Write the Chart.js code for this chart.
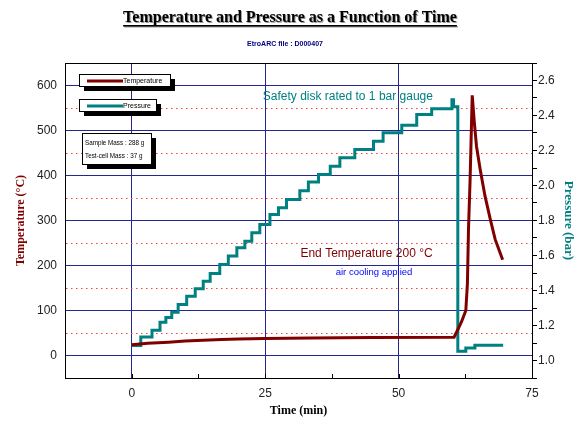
<!DOCTYPE html>
<html>
<head>
<meta charset="utf-8">
<script src="https://cdn.jsdelivr.net/npm/chart.js@4.4.1/dist/chart.umd.min.js"></script>
<style>
body { margin: 0; background: #fff; }
canvas { display: block; }
</style>
</head>
<body>
<canvas id="graph" width="580" height="422"></canvas>
<script>
// temperature trace: time (min) / temperature (degC)
const tempTime = [0, 3, 6.9, 10, 16.8, 20, 24.8, 33.6, 45, 60.4, 61.0, 61.8, 62.6, 62.9, 63.1, 63.4, 63.8, 64.2, 64.6, 65.3, 66.2, 67.2, 68.1, 69.5];
const tempVals = [24, 27, 29.6, 32, 35.5, 36.5, 37.8, 39, 40, 40.5, 55, 75, 100, 160, 280, 390, 578, 517, 465, 413, 354, 302, 258, 213];

// pressure trace: each point starts a new step (min / bar)
const presTime = [0, 1.7, 3.8, 5.3, 6.4, 7.5, 8.7, 10.3, 11.9, 13.4, 14.7, 16.5, 18.1, 19.7, 21.2, 22.5, 24.0, 25.9, 27.5, 29.0, 31.5, 33.1, 35.0, 37.2, 39.0, 41.8, 45.3, 47.1, 50.6, 53.4, 56.2, 60.0, 60.3, 61.1, 62.6, 64.3, 69.6];
const presVals = [1.086, 1.135, 1.173, 1.219, 1.246, 1.276, 1.32, 1.367, 1.41, 1.453, 1.497, 1.549, 1.597, 1.644, 1.682, 1.73, 1.777, 1.834, 1.873, 1.92, 1.97, 2.02, 2.063, 2.11, 2.158, 2.206, 2.253, 2.301, 2.345, 2.406, 2.438, 2.49, 2.45, 1.053, 1.072, 1.087, 1.087];

const massLines = ['Sample Mass : 288 g', 'Test-cell Mass : 37 g'];

const notes = [
    { text: 'Safety disk rated to 1 bar gauge', x: 40.5, y: 2.51, axis: 'y2', color: '#008080', size: 12 },
    { text: 'End Temperature 200 \u00B0C', x: 44.0, y: 227, axis: 'y', color: '#800000', size: 12 },
    { text: 'air cooling applied', x: 45.4, y: 184, axis: 'y', color: '#0000ff', size: 9.5 }
];

const NAVY = '#26268f';
const tickFont = { family: 'Liberation Sans', size: 12 };

function box(ctx, x, y, w, h) {
    ctx.fillStyle = '#000';
    ctx.fillRect(x + 5, y + 5, w, h);
    ctx.fillStyle = '#fff';
    ctx.fillRect(x, y, w, h);
    ctx.strokeStyle = '#000';
    ctx.lineWidth = 1;
    ctx.strokeRect(x + 0.5, y + 0.5, w, h);
}

const extras = {
    id: 'extras',
    beforeDraw(chart) {
        const ctx = chart.ctx;
        ctx.save();
        ctx.fillStyle = '#fff';
        ctx.fillRect(0, 0, chart.width, chart.height);
        ctx.restore();
    },
    afterDraw(chart) {
        const ctx = chart.ctx;
        const a = chart.chartArea;
        const sx = chart.scales.x;
        ctx.save();

        // frame round the plot
        ctx.strokeStyle = '#000';
        ctx.lineWidth = 1;
        ctx.strokeRect(Math.round(a.left) + 0.5, Math.round(a.top) + 0.5, Math.round(a.right - a.left), Math.round(a.bottom - a.top));
        sx.ticks.forEach(t => {
            const px = Math.round(sx.getPixelForValue(t.value)) + 0.5;
            ctx.beginPath();
            ctx.moveTo(px, a.bottom);
            ctx.lineTo(px, a.bottom - 4);
            ctx.stroke();
        });

        // notes
        ctx.textAlign = 'center';
        ctx.textBaseline = 'middle';
        notes.forEach(n => {
            ctx.font = n.size + 'px "Liberation Sans"';
            ctx.fillStyle = n.color;
            ctx.fillText(n.text, sx.getPixelForValue(n.x), chart.scales[n.axis].getPixelForValue(n.y));
        });

        // legend boxes
        ctx.textAlign = 'left';
        ctx.font = '7px "Liberation Sans"';
        const ds = chart.data.datasets;
        [[79, 74, 91], [79, 99, 77]].forEach((b, i) => {
            box(ctx, b[0], b[1], b[2], 12);
            ctx.strokeStyle = ds[i].borderColor;
            ctx.lineWidth = 3;
            ctx.beginPath();
            ctx.moveTo(b[0] + 8, b[1] + 7);
            ctx.lineTo(b[0] + 44, b[1] + 7);
            ctx.stroke();
            ctx.fillStyle = '#000';
            ctx.fillText(ds[i].label, b[0] + 44, b[1] + 7);
        });
        box(ctx, 82, 133, 69, 31);
        ctx.fillStyle = '#000';
        ctx.font = '6.3px "Liberation Sans"';
        massLines.forEach((s, i) => ctx.fillText(s, 85, 143 + i * 13));

        // title
        ctx.textAlign = 'center';
        ctx.textBaseline = 'alphabetic';
        ctx.font = 'bold 16px "Liberation Serif"';
        const title = 'Temperature and Pressure as a Function of Time';
        const tw = ctx.measureText(title).width;
        ctx.fillStyle = '#9a9a9a';
        ctx.fillText(title, 291, 23);
        ctx.fillRect(291 - tw / 2, 26, tw, 1.5);
        ctx.fillStyle = '#000';
        ctx.fillText(title, 290, 22);
        ctx.fillRect(290 - tw / 2, 25, tw, 1.5);

        ctx.font = 'bold 7px "Liberation Sans"';
        ctx.fillStyle = '#000080';
        ctx.fillText('EtroARC file : D000407', 285, 46);
        ctx.restore();
    }
};

const graph_context = document.getElementById('graph').getContext('2d');
const graph = new Chart(graph_context, {
    type: 'line',
    data: {
        datasets: [{
            label: 'Temperature',
            data: tempTime.map((t, i) => ({ x: t, y: tempVals[i] })),
            yAxisID: 'y',
            borderColor: '#800000',
            borderWidth: 3,
            pointRadius: 0,
            tension: 0,
            fill: false
        }, {
            label: 'Pressure',
            data: presTime.map((t, i) => ({ x: t, y: presVals[i] })),
            yAxisID: 'y2',
            borderColor: '#008080',
            borderWidth: 3,
            pointRadius: 0,
            stepped: true,
            fill: false
        }]
    },
    options: {
        responsive: false,
        animation: false,
        devicePixelRatio: 1,
        events: [],
        layout: { padding: { top: 63, left: 0, right: 0, bottom: 0 } },
        plugins: {
            legend: { display: false },
            tooltip: { enabled: false }
        },
        scales: {
            x: {
                type: 'linear',
                min: -12.5,
                max: 75,
                afterFit: s => { s.height = 44; },
                ticks: {
                    stepSize: 12.5,
                    padding: 8,
                    maxRotation: 0,
                    autoSkip: false,
                    color: '#222',
                    font: tickFont,
                    callback: v => (v % 25 === 0 ? v : '')
                },
                grid: {
                    drawTicks: false,
                    color: c => (c.tick && c.tick.value % 25 === 0 && c.tick.value > -12.5 && c.tick.value < 75) ? NAVY : 'transparent'
                },
                border: { color: '#000' },
                title: {
                    display: true,
                    text: 'Time (min)',
                    color: '#000',
                    font: { family: 'Liberation Serif', weight: 'bold', size: 12 },
                    padding: { top: 0, bottom: 4 }
                }
            },
            y: {
                position: 'left',
                min: -50,
                max: 650,
                afterFit: s => { s.width = 65; },
                ticks: {
                    stepSize: 50,
                    padding: 8,
                    color: '#222',
                    font: tickFont,
                    callback: v => (v % 100 === 0 ? v : '')
                },
                grid: {
                    drawTicks: false,
                    color: c => {
                        if (!c.tick || c.tick.value <= -50 || c.tick.value >= 650) return 'transparent';
                        return c.tick.value % 100 === 0 ? NAVY : '#ff3c3c';
                    }
                },
                border: {
                    color: '#000',
                    dash: c => (c.tick && c.tick.value % 100 !== 0) ? [1.5, 3.5] : []
                },
                title: {
                    display: true,
                    text: 'Temperature (\u00B0C)',
                    color: '#800000',
                    font: { family: 'Liberation Serif', weight: 'bold', size: 12 },
                    padding: { top: 14, bottom: 0 }
                }
            },
            y2: {
                position: 'right',
                min: 0.9,
                max: 2.7,
                afterFit: s => { s.width = 48; },
                ticks: {
                    stepSize: 0.1,
                    padding: 1,
                    color: '#222',
                    font: tickFont,
                    callback: v => (Math.round(v * 10) % 2 === 0 ? v.toFixed(1) : '')
                },
                grid: {
                    drawOnChartArea: false,
                    drawTicks: true,
                    tickLength: 5,
                    tickColor: '#000'
                },
                border: { color: '#000' },
                title: {
                    display: true,
                    text: 'Pressure (bar)',
                    color: '#008080',
                    font: { family: 'Liberation Serif', weight: 'bold', size: 13 },
                    padding: { top: 4, bottom: 0 }
                }
            }
        }
    },
    plugins: [extras]
});
</script>
</body>
</html>
